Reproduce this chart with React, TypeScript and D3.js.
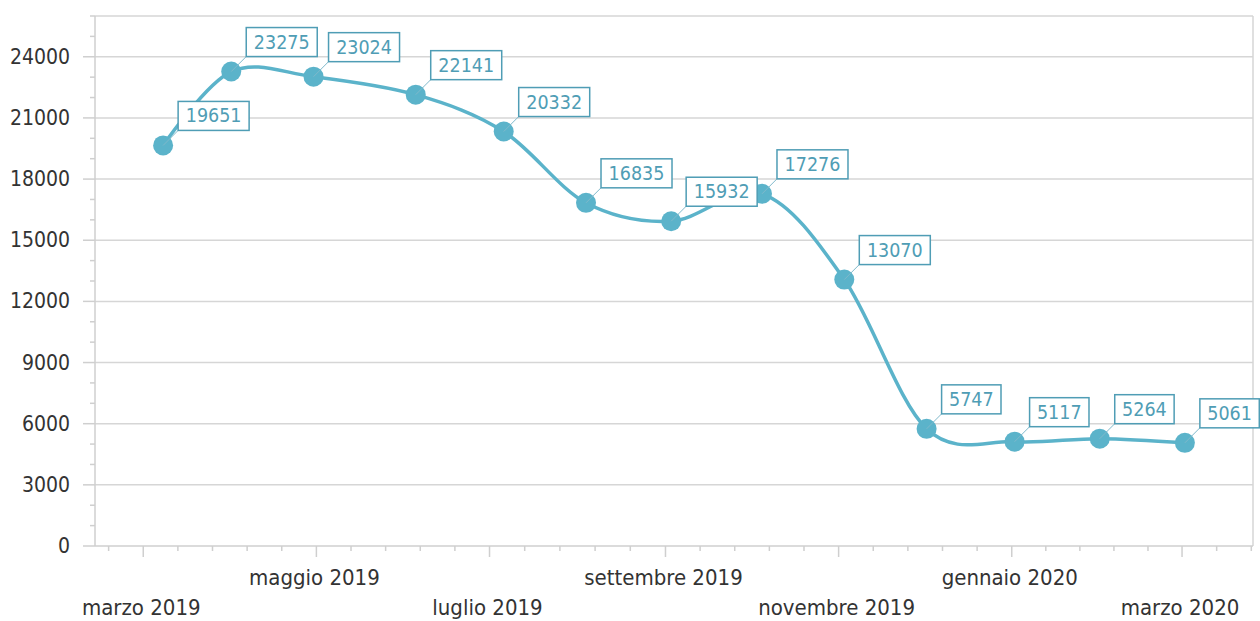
import React from "react";
import * as d3 from "d3";

const dates = [
  "2019-03-08", "2019-04-01", "2019-04-30", "2019-06-05", "2019-07-06",
  "2019-08-04", "2019-09-03", "2019-10-05", "2019-11-03", "2019-12-02",
  "2020-01-02", "2020-02-01", "2020-03-02",
];
const values = [19651, 23275, 23024, 22141, 20332, 16835, 15932, 17276, 13070, 5747, 5117, 5264, 5061];
const yTicks = [0, 3000, 6000, 9000, 12000, 15000, 18000, 21000, 24000];
const xTickDates = ["2019-03-01", "2019-05-01", "2019-07-01", "2019-09-01", "2019-11-01", "2020-01-01", "2020-03-01"];
const xTickLabels = ["marzo 2019", "maggio 2019", "luglio 2019", "settembre 2019", "novembre 2019", "gennaio 2020", "marzo 2020"];
const xDomain = ["2019-02-12", "2020-03-26"];
const yDomain = [0, 26000];

const W = 1260, H = 621;
const left = 95, right = 1253, top = 16, bottom = 546;
const teal = "#5bb3ca";
const labelColor = "#4f9db5";
const font = "'DejaVu Sans Condensed', 'DejaVu Sans', sans-serif";
const parse = d3.utcParse("%Y-%m-%d");

export default function App() {
  const x = d3.scaleUtc().domain(xDomain.map((d) => parse(d) as Date)).range([left, right]);
  const y = d3.scaleLinear().domain(yDomain).range([bottom, top]);
  const pts = dates.map((d, i) => [x(parse(d) as Date), y(values[i])] as [number, number]);
  const line = d3.line().curve(d3.curveCardinal.tension(0))(pts) || "";

  const yMinor = d3.range(0, 26001, 1000).filter((v) => v % 3000 !== 0);
  const majX = xTickDates.map((d) => x(parse(d) as Date));
  const xMinor: number[] = [];
  for (let i = 0; i < majX.length - 1; i++) {
    const step = (majX[i + 1] - majX[i]) / 5;
    for (let k = 1; k < 5; k++) xMinor.push(majX[i] + k * step);
  }
  const st = (majX[1] - majX[0]) / 5;
  for (let p = majX[0] - st; p >= left; p -= st) xMinor.push(p);
  for (let p = majX[majX.length - 1] + st; p <= right + 1; p += st) xMinor.push(p);

  return (
    <svg width={W} height={H} style={{ position: "absolute", left: 0, top: 0, background: "#fff" }}>
      {yTicks.filter((v) => v > 0).map((v) => (
        <line key={"g" + v} x1={left} x2={right} y1={y(v)} y2={y(v)} stroke="#d6d6d6" strokeWidth={1.5} />
      ))}
      <line x1={left} x2={right} y1={top} y2={top} stroke="#d6d6d6" strokeWidth={1.5} />
      <line x1={right} x2={right} y1={top} y2={bottom} stroke="#d6d6d6" strokeWidth={1.5} />
      <line x1={left} x2={left} y1={top} y2={bottom} stroke="#cfcfcf" strokeWidth={1.5} />
      <line x1={left} x2={right} y1={bottom} y2={bottom} stroke="#cfcfcf" strokeWidth={1.5} />
      {yTicks.map((v) => (
        <g key={"yt" + v}>
          <line x1={left - 12} x2={left} y1={y(v)} y2={y(v)} stroke="#cfcfcf" strokeWidth={1.5} />
          <text x={70} y={y(v) + 7} textAnchor="end" fontFamily={font} fontSize={21} fill="#333">{v}</text>
        </g>
      ))}
      {yMinor.map((v) => (
        <line key={"ym" + v} x1={left - 5} x2={left} y1={y(v)} y2={y(v)} stroke="#cfcfcf" strokeWidth={1.5} />
      ))}
      {majX.map((px, i) => (
        <g key={"xt" + i}>
          <line x1={px} x2={px} y1={bottom} y2={bottom + 11} stroke="#cfcfcf" strokeWidth={1.5} />
          <text x={px - 2} y={i % 2 === 0 ? 615 : 585} textAnchor="middle" fontFamily={font} fontSize={22} fill="#333">
            {xTickLabels[i]}
          </text>
        </g>
      ))}
      {xMinor.map((px, i) => (
        <line key={"xm" + i} x1={px} x2={px} y1={bottom} y2={bottom + 5} stroke="#cfcfcf" strokeWidth={1.5} />
      ))}
      <path d={line} fill="none" stroke={teal} strokeWidth={3.5} />
      {pts.map(([px, py], i) => (
        <circle key={"c" + i} cx={px} cy={py} r={10} fill={teal} />
      ))}
      {pts.map(([px, py], i) => {
        const s = String(values[i]);
        const w = s.length * 11.6 + 13;
        const bx = px + 15, by = py - 15;
        return (
          <g key={"l" + i}>
            <line x1={px} y1={py} x2={bx} y2={by} stroke="#7fb9cb" strokeWidth={1} />
            <rect x={bx} y={by - 29} width={w} height={29} fill="#fff" stroke={labelColor} strokeWidth={1.5} />
            <text x={bx + w / 2} y={by - 8} textAnchor="middle" fontFamily={font} fontSize={19.5} fill={labelColor}>{s}</text>
          </g>
        );
      })}
    </svg>
  );
}
